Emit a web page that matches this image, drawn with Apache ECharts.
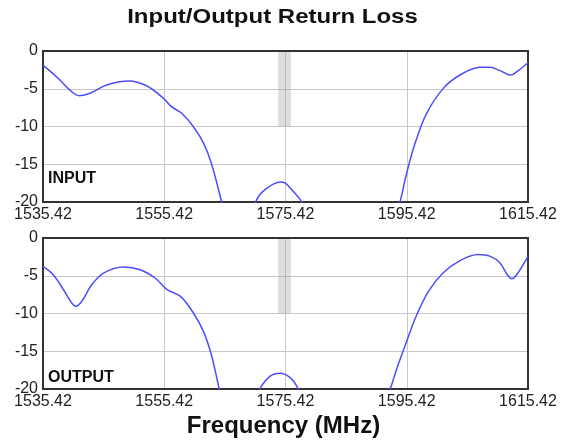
<!DOCTYPE html>
<html>
<head>
<meta charset="utf-8">
<script src="https://cdn.jsdelivr.net/npm/echarts@6/dist/echarts.min.js"></script>
<style>
  html, body { margin: 0; padding: 0; background: #fff; }
  #main { width: 561px; height: 446px; }
</style>
</head>
<body>
<div id="main"></div>
<script>
// start frequency, axis runs from F0 to F0 + 80 MHz
var F0 = 1535.42;
var xTicks = [1535.42, 1555.42, 1575.42, 1595.42, 1615.42];
var yTicks = [0, -5, -10, -15, -20];

// INPUT return loss (MHz, dB) - values below -20 are clipped by the plot
var inputFreq = [1535.42, 1536.5, 1538.2, 1540.15, 1541.4, 1543.2, 1545.9, 1549.5, 1552.5, 1555.3, 1556.6, 1558.3, 1560.2, 1561.9, 1563.2, 1564.9, 1566.2, 1568.2, 1569.8, 1570.5, 1571.2, 1572.3, 1573.5, 1574.6, 1575.4, 1576.7, 1578.1, 1579.0, 1586.0, 1593.0, 1594.3, 1595.4, 1596.8, 1598.7, 1601.45, 1604.2, 1607.5, 1609.15, 1610.8, 1612.6, 1613.8, 1615.42];
var inputDb = [-1.9, -2.6, -3.84, -5.39, -5.92, -5.6, -4.5, -3.97, -4.6, -6.27, -7.37, -8.25, -10.0, -12.2, -14.9, -20, -24, -27, -22, -20, -19, -18.2, -17.6, -17.35, -17.5, -18.6, -20, -22, -35, -23, -20, -16.2, -12.2, -8.25, -4.95, -3.18, -2.16, -2.16, -2.6, -3.18, -2.6, -1.55];

// OUTPUT return loss (MHz, dB)
var outputFreq = [1535.42, 1537.1, 1538.8, 1540.15, 1540.9, 1541.8, 1543.45, 1545.4, 1548.7, 1551.45, 1553.9, 1555.9, 1558.1, 1560.2, 1561.9, 1563.2, 1564.5, 1565.5, 1568.0, 1570.3, 1571.2, 1572.9, 1574.5, 1576.2, 1577.5, 1578.5, 1585.0, 1591.5, 1592.7, 1594.0, 1595.4, 1597.05, 1599.0, 1601.4, 1604.2, 1607.2, 1609.2, 1610.8, 1612.0, 1612.75, 1613.55, 1615.42];
var outputDb = [-3.76, -4.86, -6.85, -8.6, -9.05, -8.4, -6.2, -4.64, -3.85, -4.2, -5.3, -6.85, -7.73, -9.9, -12.4, -15.5, -20, -23, -27, -22.5, -20, -18.3, -17.9, -18.5, -20, -22.5, -33, -23, -20, -16.8, -13.7, -10.2, -7.07, -4.64, -3.0, -2.2, -2.43, -3.3, -4.86, -5.4, -4.86, -2.43];

// shaded GPS L1 band (MHz, dB)
var bandFreq = [1574.2, 1576.3];
var bandDb = [0, -10];

var panelNames = ['INPUT', 'OUTPUT'];

function pairs(fs, ds) {
  var out = [];
  for (var i = 0; i < fs.length; i++) out.push([fs[i] - F0, ds[i]]);
  return out;
}

var chart = echarts.init(document.getElementById('main'), null, { renderer: 'canvas' });

var FONT = 'Liberation Sans, Arial';
var gridTops = [51, 238];
var grids = [], xAxes = [], yAxes = [], series = [];
var curves = [pairs(inputFreq, inputDb), pairs(outputFreq, outputDb)];

for (var i = 0; i < 2; i++) {
  grids.push({
    left: 43, top: gridTops[i], width: 485, height: 151,
    show: true, borderColor: '#333', borderWidth: 2, backgroundColor: 'transparent', z: 3
  });
  xAxes.push({
    type: 'value', gridIndex: i,
    min: xTicks[0] - F0, max: xTicks[xTicks.length - 1] - F0, interval: xTicks[1] - xTicks[0],
    axisLine: { show: false }, axisTick: { show: false },
    splitLine: { show: true, lineStyle: { color: '#c8c8c8', width: 1 } },
    axisLabel: {
      fontSize: 16, color: '#222', fontFamily: FONT, margin: 5,
      formatter: function (v) { return (v + F0).toFixed(2); }
    }
  });
  yAxes.push({
    type: 'value', gridIndex: i,
    min: yTicks[yTicks.length - 1], max: yTicks[0], interval: 5,
    axisLine: { show: false }, axisTick: { show: false },
    splitLine: { show: true, lineStyle: { color: '#c8c8c8', width: 1 } },
    axisLabel: { fontSize: 16, color: '#222', fontFamily: FONT, margin: 5 }
  });
  series.push({
    type: 'line', xAxisIndex: i, yAxisIndex: i,
    data: curves[i], smooth: 0.35, showSymbol: false, clip: true,
    lineStyle: { color: '#4d4dff', width: 1.5 },
    markArea: {
      silent: true,
      itemStyle: { color: 'rgba(160,160,160,0.35)' },
      data: [[
        { coord: [bandFreq[0] - F0, bandDb[0]] },
        { coord: [bandFreq[1] - F0, bandDb[1]] }
      ]]
    },
    z: 5
  });
}

function label(text, x, y, size, align, sx) {
  return {
    type: 'text', x: x, y: y, scaleX: sx || 1, z: 10,
    style: {
      text: text, font: 'bold ' + size + 'px ' + FONT, fill: '#111',
      align: align, verticalAlign: 'middle', textAlign: align, textVerticalAlign: 'middle'
    }
  };
}

var option = {
  backgroundColor: '#fff',
  animation: false,
  grid: grids,
  xAxis: xAxes,
  yAxis: yAxes,
  series: series,
  graphic: [
    label('Input/Output Return Loss', 272.5, 17.5, 20, 'center', 1.2),
    label(panelNames[0], 48, 178.5, 16, 'left'),
    label(panelNames[1], 48, 377.5, 16, 'left'),
    label('Frequency (MHz)', 283.5, 426.5, 24, 'center')
  ]
};

chart.setOption(option);
</script>
</body>
</html>
